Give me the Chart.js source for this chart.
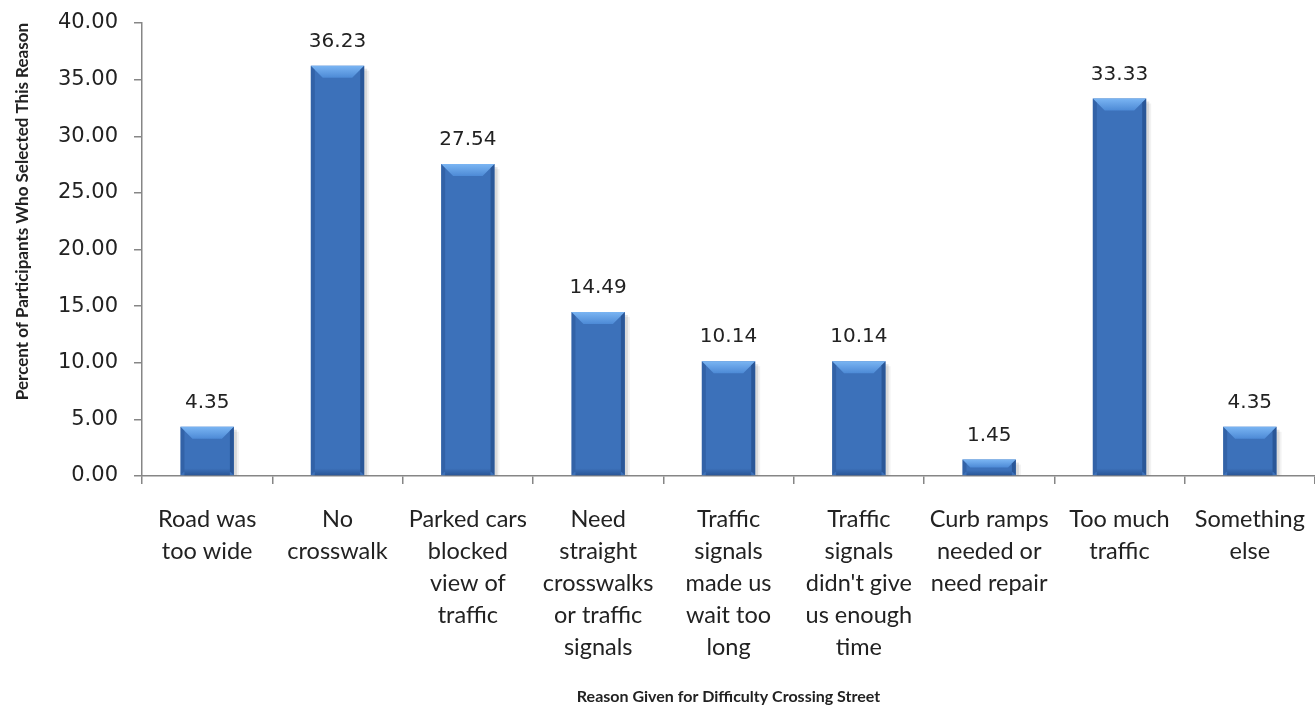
<!DOCTYPE html>
<html>
<head>
<meta charset="utf-8">
<script src="https://cdn.jsdelivr.net/npm/chart.js@4/dist/chart.umd.min.js"></script>
<style>
  html, body { margin: 0; padding: 0; background: #fff; }
  #wrap { width: 1315px; height: 712px; position: relative; }
</style>
</head>
<body>
<div id="wrap"><canvas id="reasonChart"></canvas></div>
<script>
// Razones dadas por dificultad al cruzar la calle
const reasons = [
  ["Road was", "too wide"],
  ["No", "crosswalk"],
  ["Parked cars", "blocked", "view of", "traffic"],
  ["Need", "straight", "crosswalks", "or traffic", "signals"],
  ["Traffic", "signals", "made us", "wait too", "long"],
  ["Traffic", "signals", "didn't give", "us enough", "time"],
  ["Curb ramps", "needed or", "need repair"],
  ["Too much", "traffic"],
  ["Something", "else"],
];
const percents = [4.35, 36.23, 27.54, 14.49, 10.14, 10.14, 1.45, 33.33, 4.35];
const yTicks = [0, 5, 10, 15, 20, 25, 30, 35, 40];

const axisColor = "#868686";
const textColor = "#222222";

// Relieve de las barras (bisel superior claro, bordes oscuros)
const bevelPlugin = {
  id: "bevel",
  beforeDatasetsDraw(chart) {
    const ctx = chart.ctx;
    chart.getDatasetMeta(0).data.forEach((bar) => {
      const left = bar.x - bar.width / 2;
      const h = bar.base - bar.y;
      ctx.save();
      ctx.fillStyle = "rgba(0,0,0,0.10)";
      ctx.fillRect(left + 3, bar.y + 3, bar.width, h - 3);
      ctx.fillStyle = "rgba(0,0,0,0.05)";
      ctx.fillRect(left + 5, bar.y + 5, bar.width, h - 5);
      ctx.restore();
    });
  },
  afterDatasetsDraw(chart) {
    const ctx = chart.ctx;
    chart.getDatasetMeta(0).data.forEach((bar) => {
      const left = bar.x - bar.width / 2;
      const right = bar.x + bar.width / 2;
      const top = bar.y;
      const bottom = bar.base;
      const h = bottom - top;
      const b = Math.min(12, h / 2);
      const s = Math.min(4, h / 2);
      ctx.save();
      // bisel superior
      let g = ctx.createLinearGradient(0, top, 0, top + b);
      g.addColorStop(0, "#7ab5f3");
      g.addColorStop(1, "#4d8ad6");
      ctx.fillStyle = g;
      ctx.beginPath();
      ctx.moveTo(left, top);
      ctx.lineTo(right, top);
      ctx.lineTo(right - b, top + b);
      ctx.lineTo(left + b, top + b);
      ctx.closePath();
      ctx.fill();
      // bordes laterales
      ctx.fillStyle = "rgba(20,55,110,0.45)";
      ctx.beginPath();
      ctx.moveTo(right, top);
      ctx.lineTo(right, bottom);
      ctx.lineTo(right - s, bottom - s);
      ctx.lineTo(right - s, top + Math.min(s, b));
      ctx.closePath();
      ctx.fill();
      ctx.fillStyle = "rgba(20,55,110,0.25)";
      ctx.beginPath();
      ctx.moveTo(left, top);
      ctx.lineTo(left + s, top + Math.min(s, b));
      ctx.lineTo(left + s, bottom - s);
      ctx.lineTo(left, bottom);
      ctx.closePath();
      ctx.fill();
      // bisel inferior
      const bb = Math.min(7, h / 3);
      g = ctx.createLinearGradient(0, bottom - bb, 0, bottom);
      g.addColorStop(0, "rgba(20,55,110,0.0)");
      g.addColorStop(1, "rgba(20,55,110,0.45)");
      ctx.fillStyle = g;
      ctx.fillRect(left + s, bottom - bb, bar.width - 2 * s, bb);
      ctx.restore();
    });
  },
};

// Etiquetas de valor encima de cada barra
const valueLabels = {
  id: "valueLabels",
  afterDatasetsDraw(chart) {
    const ctx = chart.ctx;
    const ds = chart.data.datasets[0];
    ctx.save();
    ctx.font = "20px 'DejaVu Sans'";
    ctx.fillStyle = textColor;
    ctx.textAlign = "center";
    ctx.textBaseline = "bottom";
    chart.getDatasetMeta(0).data.forEach((bar, i) => {
      ctx.fillText(ds.data[i].toFixed(2), bar.x, bar.y - 14);
    });
    ctx.restore();
  },
};

const ctx = document.getElementById("reasonChart").getContext("2d");
new Chart(ctx, {
  type: "bar",
  data: {
    labels: reasons,
    datasets: [
      {
        data: percents,
        backgroundColor: "#3c71ba",
        borderWidth: 0,
        barPercentage: 0.41,
        categoryPercentage: 1.0,
      },
    ],
  },
  options: {
    responsive: true,
    maintainAspectRatio: false,
    animation: false,
    layout: { padding: { top: 23, right: 0, bottom: 0, left: 0 } },
    plugins: {
      legend: { display: false },
      tooltip: { enabled: false },
    },
    scales: {
      x: {
        offset: true,
        border: { color: axisColor, width: 1.5 },
        grid: {
          offset: true,
          drawOnChartArea: false,
          drawTicks: true,
          tickLength: 8,
          color: axisColor,
          lineWidth: 1.5,
        },
        ticks: {
          color: textColor,
          font: { family: "Lato", size: 23.5, lineHeight: 1.355 },
          padding: 20,
          maxRotation: 0,
          autoSkip: false,
        },
        title: {
          display: true,
          text: "Reason Given for Difficulty Crossing Street",
          color: textColor,
          font: { family: "Lato", size: 16, weight: "bold" },
          padding: { top: 0, bottom: 6 },
        },
        afterFit(scale) {
          scale.height = 236;
          scale.paddingLeft = 0;
          scale.paddingRight = 0;
        },
      },
      y: {
        min: 0,
        max: 40,
        border: { color: axisColor, width: 1.5 },
        grid: {
          drawOnChartArea: false,
          drawTicks: true,
          tickLength: 8,
          color: axisColor,
          lineWidth: 1.5,
        },
        afterBuildTicks(scale) {
          scale.ticks = yTicks.map((v) => ({ value: v }));
        },
        ticks: {
          color: textColor,
          font: { family: "DejaVu Sans", size: 21 },
          padding: 16,
          callback: (v) => Number(v).toFixed(2),
        },
        title: {
          display: true,
          text: "Percent of Participants Who Selected This Reason",
          align: "end",
          color: textColor,
          font: { family: "Lato", size: 17, weight: "bold" },
          padding: { top: 12, bottom: 0 },
        },
        afterFit(scale) {
          scale.width = 142;
          scale.paddingTop = 0;
          scale.paddingBottom = 0;
        },
      },
    },
  },
  plugins: [bevelPlugin, valueLabels],
});
</script>
</body>
</html>
